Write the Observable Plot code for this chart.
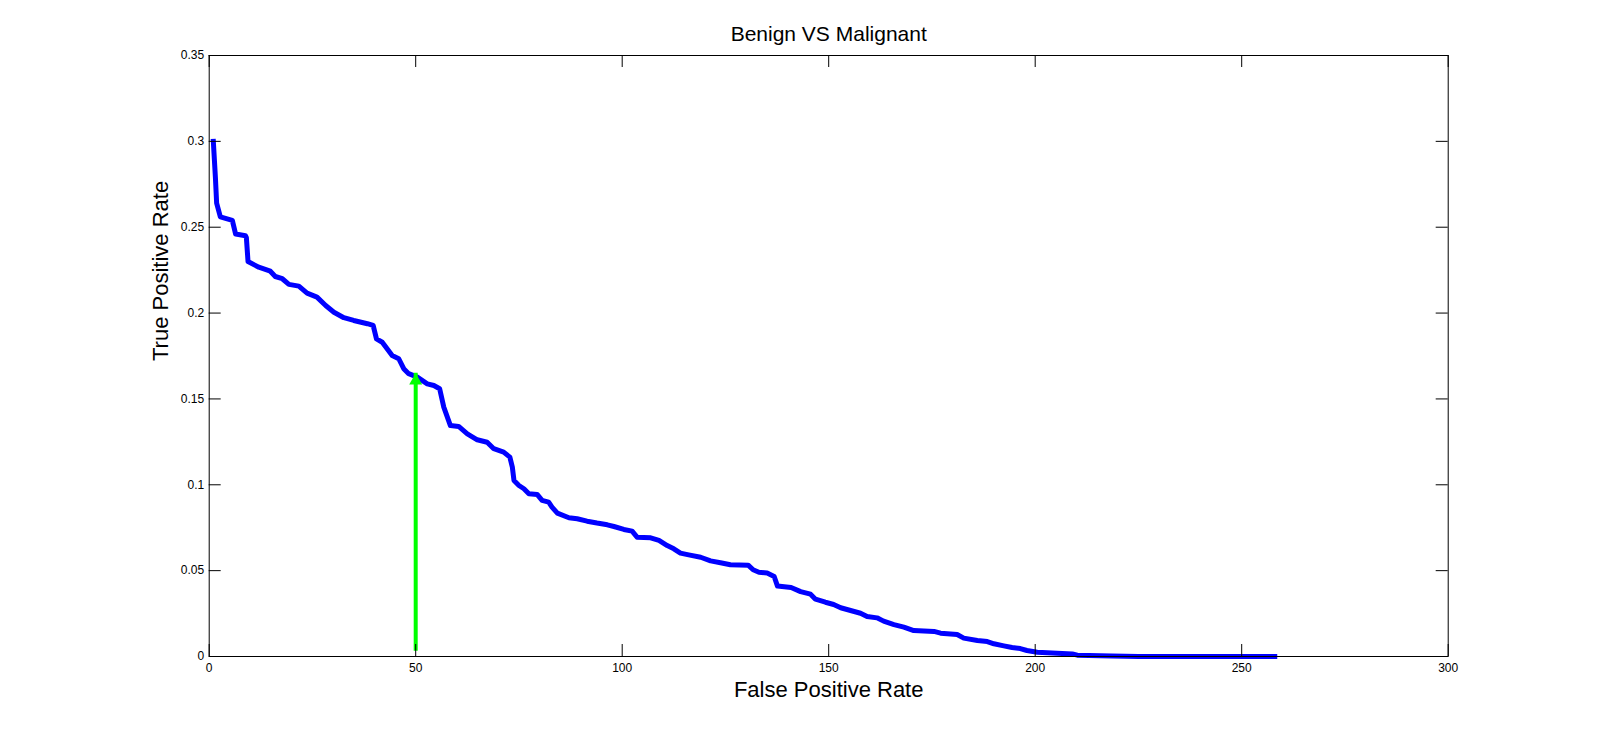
<!DOCTYPE html>
<html><head><meta charset="utf-8">
<script src="https://cdn.jsdelivr.net/npm/d3@7"></script>
<script src="https://cdn.jsdelivr.net/npm/@observablehq/plot@0.6"></script>
<style>html,body{margin:0;padding:0;background:#fff;} svg{display:block}</style>
</head><body><div id="chart"></div>
<script>
const title = "Benign VS Malignant";
const xLabel = "False Positive Rate";
const yLabel = "True Positive Rate";
const fpr = [1, 1.5, 1.8, 2.7, 5.6, 6.4, 8.8, 9.0, 9.4, 12, 14.8, 16, 17.7, 19.3, 21.7, 23.7, 26.1, 28.2, 30.2, 32.6, 35, 38.3, 39.7, 40.5, 41.9, 44.3, 45.9, 47.1, 48.3, 50.4, 52.8, 54.4, 55.8, 56.8, 58.4, 60.4, 62.5, 64.9, 67.3, 68.9, 71.3, 72.8, 73.4, 73.8, 75, 76.2, 77.4, 79.4, 80.6, 82.2, 83, 84.3, 87.1, 89.1, 91.5, 93.9, 96.4, 98, 100.4, 102.4, 103.6, 106.9, 108.9, 110.9, 112.5, 114.1, 116.1, 119, 121.4, 123.8, 126.2, 130.5, 131.7, 133.1, 135.1, 136.8, 137.6, 140.9, 143.2, 145.6, 146.8, 149.2, 151.2, 152.9, 155.3, 157.7, 159.3, 161.7, 163.3, 165.8, 168.2, 170.6, 175.5, 177.1, 181.1, 182.7, 186, 188.4, 190, 192.4, 194.4, 196.4, 198, 200.5, 205.3, 209, 210.2, 218.6, 225, 258];
const tpr = [0.300, 0.279, 0.264, 0.256, 0.254, 0.246, 0.245, 0.244, 0.230, 0.2267, 0.2244, 0.2213, 0.220, 0.2167, 0.2157, 0.2116, 0.2093, 0.2044, 0.2005, 0.1973, 0.1957, 0.1938, 0.1928, 0.185, 0.183, 0.1753, 0.1734, 0.1676, 0.1647, 0.1627, 0.1588, 0.1578, 0.1559, 0.1452, 0.1345, 0.134, 0.1297, 0.1262, 0.1248, 0.121, 0.119, 0.1161, 0.1103, 0.1025, 0.0996, 0.0977, 0.0948, 0.0944, 0.0909, 0.0899, 0.087, 0.0835, 0.0808, 0.0802, 0.0788, 0.0777, 0.0767, 0.0757, 0.074, 0.073, 0.0695, 0.0691, 0.0676, 0.0646, 0.0627, 0.0602, 0.0592, 0.0578, 0.0557, 0.0546, 0.0534, 0.0532, 0.0505, 0.0491, 0.0486, 0.0466, 0.041, 0.0402, 0.0378, 0.0363, 0.0334, 0.0316, 0.0303, 0.0284, 0.0268, 0.0252, 0.0233, 0.0225, 0.0206, 0.0186, 0.0171, 0.0151, 0.0146, 0.0136, 0.0128, 0.0107, 0.0093, 0.0087, 0.0074, 0.0062, 0.0052, 0.0046, 0.0035, 0.0025, 0.0019, 0.0015, 0.0008, 0.0003, 0, 0];
const xTicks = [0, 50, 100, 150, 200, 250, 300];
const yTicks = [0, 0.05, 0.1, 0.15, 0.2, 0.25, 0.3, 0.35];
const arrowX = [50];
const arrowBase = [0.003];
const arrowTip = [0.165];

const curve = fpr.map((x, i) => ({x, y: tpr[i]}));
const arrow = arrowX.map((x, i) => ({x, y1: arrowBase[i], y2: arrowTip[i]}));
const W = 1600, H = 737, mL = 208.7, mR = 152.3, mT = 55, mB = 81;
const fw = W - mL - mR, fh = H - mT - mB;
const font = "'Liberation Sans', Arial, sans-serif";
const plot = Plot.plot({
  width: W, height: H, marginLeft: mL, marginRight: mR, marginTop: mT, marginBottom: mB,
  style: {fontFamily: font, background: "#fff", color: "#000", fontSize: "12px"},
  x: {domain: [0, 300], label: null},
  y: {domain: [0, 0.35], label: null},
  marks: [
    Plot.line(curve, {x: "x", y: "y", stroke: "#0000ff", strokeWidth: 5, strokeLinejoin: "round", strokeLinecap: "square"}),
    Plot.ruleX(arrow, {x: "x", y1: "y1", y2: "y2", stroke: "#00ff00", strokeWidth: 4}),
    Plot.dot(arrow, {x: "x", y: "y2", symbol: "triangle", r: 4.83, fill: "#00ff00", stroke: null, dy: 7.5}),
    Plot.frame({stroke: "#000", strokeWidth: 1}),
    Plot.tickX(xTicks, {x: d => d, insetTop: fh - 12, stroke: "#000"}),
    Plot.tickX(xTicks, {x: d => d, insetBottom: fh - 12, stroke: "#000"}),
    Plot.tickY(yTicks, {y: d => d, insetRight: fw - 12, stroke: "#000"}),
    Plot.tickY(yTicks, {y: d => d, insetLeft: fw - 12, stroke: "#000"}),
    Plot.axisX(xTicks, {tickSize: 0, tickPadding: 7, tickFormat: d => String(d), label: null}),
    Plot.axisY(yTicks, {tickSize: 0, tickPadding: 5, tickFormat: d => String(d), label: null}),
    Plot.text([title], {text: d => d, frameAnchor: "top", dy: -15, lineAnchor: "bottom", fontSize: 21}),
    Plot.text([xLabel], {text: d => d, frameAnchor: "bottom", dy: 40, lineAnchor: "bottom", fontSize: 22}),
    Plot.text([yLabel], {text: d => d, frameAnchor: "left", dx: -48, dy: 5, rotate: -90, lineAnchor: "middle", fontSize: 22})
  ]
});
document.getElementById("chart").appendChild(plot);
</script>
</body></html>
